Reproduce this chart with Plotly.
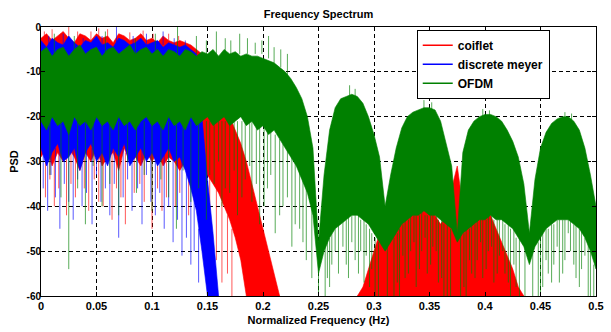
import numpy as np
import plotly.graph_objects as go

# ---------------- data ----------------
x_ticks = [0, 0.05, 0.1, 0.15, 0.2, 0.25, 0.3, 0.35, 0.4, 0.45, 0.5]
x_tick_labels = ["0", "0.05", "0.1", "0.15", "0.2", "0.25", "0.3", "0.35", "0.4", "0.45", "0.5"]
y_ticks = [-60, -50, -40, -30, -20, -10, 0]
y_tick_labels = ["-60", "-50", "-40", "-30", "-20", "-10", "0"]

# OFDM (green): frequency grid 0 .. 0.5, 101 samples (dense band upper / lower edge)
ofdm_f = np.linspace(0, 0.5, 101)
ofdm_upper = [
    -5.5, -4.5, -6.5, -5, -4.5, -6.5, -5, -4, -6, -5,
    -4.5, -6.5, -5, -4.5, -6, -5, -4, -6, -5, -4.5,
    -6, -5, -6.5, -5, -5.5, -6.5, -5, -5.5, -6.5, -5.5,
    -6, -5, -6.5, -5, -6, -5.5, -6.5, -6, -6.5, -6.5,
    -7, -7.5, -8, -9, -10, -11.5, -13.5, -16, -20, -27,
    -48,
    -33, -23, -18, -16, -15.5, -15, -15.5, -17, -20, -24,
    -29, -40, -33, -27, -22.5, -20, -19, -18.5, -18, -18,
    -18.5, -21, -26, -31, -46, -28, -23, -21, -20, -19.5,
    -19.5, -20, -21, -23, -25.5, -29, -35, -46, -34, -27,
    -23.5, -21.5, -20.5, -20, -20, -21, -23, -27, -33, -40,
]
ofdm_lower = [
    -21, -23, -20, -22, -21, -24, -20, -22, -21, -23,
    -20, -22, -21, -23, -20, -22, -21, -23, -21, -20,
    -22, -21, -23, -20, -22, -21, -23, -20, -22, -21,
    -20, -22, -21, -20, -22, -21, -20, -22, -21, -23,
    -22, -24, -23, -25, -27, -29, -31, -34, -37, -42,
    -55,
    -50, -47, -45, -44, -43, -42, -42, -43, -44, -46,
    -48, -50, -48, -46, -44, -43, -42, -42, -41, -42,
    -42, -43, -44, -45, -48, -46, -45, -44, -43, -43,
    -42, -43, -43, -44, -45, -47, -49, -53, -49, -47,
    -45, -44, -43, -43, -43, -44, -45, -47, -50, -54,
]
# thin spikes of the OFDM trace: frequency, start level, end level
ofdm_spike_f = [
    # upward spikes
    0.012, 0.03, 0.058, 0.085, 0.103, 0.123, 0.14, 0.149, 0.158, 0.166, 0.171, 0.179,
    0.186, 0.193, 0.199, 0.205, 0.21, 0.216, 0.222,
    0.278, 0.283, 0.345, 0.352, 0.398, 0.404, 0.472, 0.478,
    # main lobe, downward
    0.008, 0.018, 0.025, 0.033, 0.04, 0.047, 0.055, 0.062, 0.07, 0.078, 0.086, 0.093,
    0.1, 0.108, 0.115, 0.122, 0.128, 0.135, 0.142, 0.149, 0.152, 0.156, 0.16, 0.163,
    0.166, 0.17, 0.174, 0.177, 0.181, 0.184, 0.188, 0.19, 0.194, 0.197, 0.201, 0.204,
    0.207, 0.211, 0.215, 0.218, 0.222, 0.226, 0.229, 0.233, 0.236, 0.239, 0.244, 0.25,
    # side lobe 1
    0.256, 0.258, 0.26, 0.262, 0.265, 0.268, 0.272, 0.275, 0.277, 0.28, 0.283,
    0.286, 0.288, 0.291, 0.293, 0.296, 0.298, 0.301, 0.304, 0.312, 0.318,
    # side lobe 2
    0.321, 0.323, 0.326, 0.328, 0.331, 0.333, 0.336, 0.338, 0.341, 0.343, 0.346,
    0.348, 0.351, 0.353, 0.356, 0.358, 0.361, 0.363, 0.366, 0.369, 0.378,
    # side lobe 3
    0.381, 0.383, 0.386, 0.388, 0.391, 0.393, 0.396, 0.398, 0.401, 0.403, 0.406, 0.408,
    0.411, 0.413, 0.416, 0.418, 0.421, 0.423, 0.426, 0.428, 0.431, 0.436, 0.443,
    # side lobe 4
    0.448, 0.45, 0.452, 0.455, 0.457, 0.46, 0.462, 0.465, 0.467, 0.47, 0.472,
    0.475, 0.477, 0.48, 0.482, 0.485, 0.487, 0.49, 0.493, 0.495, 0.498,
]
ofdm_spike_from = [
    -6, -6, -6, -6, -6, -6, -6, -6, -6, -6, -6, -6,
    -6, -6, -6, -7, -8, -9, -11,
    -16, -16, -19, -19, -20.5, -20.5, -21, -21,
    -21, -21, -21, -21, -21, -21, -21, -21, -21, -21, -21, -21,
    -21, -21, -21, -21, -21, -21, -21, -21, -21, -21, -21, -21,
    -21, -21, -21, -21, -21, -21, -21, -21, -21, -22, -22, -22,
    -23, -24, -25, -26, -27, -28, -30, -32, -34, -36, -40, -50,
    -49, -48, -47, -46, -45, -44, -43, -43, -42, -42, -42,
    -42, -43, -43, -44, -45, -46, -47, -48, -49, -47,
    -46, -45, -44, -43, -43, -42, -42, -42, -42, -41, -42,
    -42, -42, -42, -42, -43, -43, -44, -44, -45, -46,
    -46, -45, -45, -44, -44, -43, -43, -43, -43, -42, -42, -43,
    -43, -43, -43, -44, -44, -45, -45, -47, -47, -49, -50,
    -48, -47, -46, -45, -45, -44, -44, -43, -43, -43, -43,
    -43, -43, -44, -44, -45, -45, -47, -48, -50, -53,
]
ofdm_spike_to = [
    -1.5, -2, -1, -2.5, -1.5, 0, -2, -3, -1, -2.5, -3, -1.5,
    -2.5, -3.5, -3, -2, -4.5, -5, -6,
    -13, -13.8, -16.3, -16.8, -18.3, -18.6, -19, -19.3,
    -33, -38, -54, -36, -44, -31, -40, -35, -42, -30, -37, -33,
    -41, -34, -38, -45, -32, -39, -36, -43, -33, -35, -30, -40,
    -36, -37, -32, -42, -38, -34, -31, -39, -35, -44, -40, -36,
    -33, -46, -42, -40, -38, -49, -44, -45, -48, -52, -56, -60,
    -60, -56, -58, -53, -50, -55, -49, -53, -56, -48, -52,
    -55, -50, -57, -51, -58, -54, -60, -60, -60, -60,
    -57, -60, -51, -56, -55, -50, -48, -58, -54, -50, -47,
    -55, -53, -49, -50, -57, -56, -60, -60, -60, -60,
    -58, -60, -52, -55, -56, -52, -48, -56, -54, -50, -49, -57,
    -55, -51, -50, -55, -57, -60, -53, -58, -60, -60, -60,
    -60, -60, -58, -52, -55, -57, -53, -49, -57, -55, -52,
    -46, -50, -53, -56, -58, -54, -51, -60, -60, -60,
]

# discrete meyer (blue): grid 0 .. 0.16, 33 samples
meyer_f = np.linspace(0, 0.16, 33)
meyer_upper = [
    -3, -4.5, -2.5, -3.5, -4, -2, -3.5, -4.5, -3, -3.5,
    -2, -4, -3.5, -4.5, -2.5, -3, -4, -3.5, -2.5, -4,
    -3.5, -3, -4.5, -3.5, -4, -4.5, -4, -5, -6,
    -20, -34, -46, -60,
]
meyer_lower = [
    -27, -31, -28, -26, -30, -29, -27, -32, -28, -26,
    -30, -28, -31, -27, -29, -26, -31, -29, -27, -30,
    -28, -31, -29, -27, -30, -29,
    -32, -36, -41, -50, -60, -60, -60,
]
meyer_spike_f = [
    0.007, 0.02, 0.038, 0.055, 0.068, 0.083, 0.095, 0.11, 0.12, 0.13,
    0.002, 0.006, 0.009, 0.013, 0.017, 0.021, 0.025, 0.029, 0.033, 0.037,
    0.041, 0.046, 0.05, 0.054, 0.058, 0.062, 0.066, 0.07, 0.074, 0.078,
    0.082, 0.087, 0.091, 0.095, 0.099, 0.103, 0.107, 0.111, 0.115, 0.119,
    0.123, 0.127, 0.131, 0.135, 0.138, 0.142,
]
meyer_spike_from = [
    -4, -4, -4, -4, -4, -4, -4, -4, -4, -4,
    -27, -27, -27, -27, -27, -27, -27, -27, -27, -27,
    -27, -27, -27, -27, -27, -27, -27, -27, -27, -27,
    -27, -27, -27, -27, -27, -27, -27, -27, -27, -27,
    -28, -29, -32, -35, -38, -45,
]
meyer_spike_to = [
    -2, -1.5, -2.5, -2, 0, -2, -1.5, -1, -2.5, -3,
    -36, -41, -33, -38, -45, -35, -39, -43, -34, -40,
    -37, -44, -33, -39, -36, -42, -35, -47, -38, -34,
    -41, -36, -44, -33, -39, -42, -37, -45, -40, -48,
    -43, -51, -47, -53, -50, -57,
]

# coiflet (red): first band 0 .. 0.215 (44 samples), second band 0.285 .. 0.435 (31 samples)
coif_f1 = np.linspace(0, 0.215, 44)
coif_upper1 = [
    -2.5, -1.5, -3, -2, -1, -2.5, -3.5, -1.5, -2, -3,
    -1.5, -2.5, -2, -3.5, -1.5, -2, -3, -2.5, -1.5, -3,
    -2.5, -3.5, -2, -3, -3.5, -3, -3.5, -4,
    -5, -6, -8, -11, -14, -17, -20, -23, -26, -30, -35, -40, -45, -50, -55, -60,
]
coif_lower1 = [
    -29, -27, -31, -28, -30, -27, -29, -32, -28, -30,
    -27, -31, -29, -28, -32, -27, -30, -29, -31, -28,
    -30, -28, -31, -29, -30, -32, -30, -31, -30, -32,
    -33, -35, -37, -40, -43, -47, -52, -60, -60, -60, -60, -60, -60, -60,
]
coif_f2 = np.linspace(0.285, 0.435, 31)
coif_upper2 = [
    -60, -58, -54, -50, -46, -43, -42, -41, -40, -39,
    -38.5, -39, -40, -40, -42, -44, -42, -36, -31, -40,
    -43, -41, -40, -40, -42, -45, -48, -51, -54, -58, -60,
]
coif_lower2 = [
    -60, -60, -60, -60, -60, -60, -60, -60, -60, -60,
    -60, -60, -60, -60, -60, -60, -60, -60, -60, -60,
    -60, -60, -60, -60, -60, -60, -60, -60, -60, -60, -60,
]
coif_spike_f = [
    0.003, 0.01, 0.018, 0.025, 0.033, 0.045, 0.052, 0.06, 0.072, 0.08, 0.092, 0.101, 0.115, 0.124,
    0.004, 0.008, 0.012, 0.016, 0.023, 0.027, 0.031, 0.039, 0.043, 0.048, 0.052, 0.056,
    0.064, 0.068, 0.072, 0.076, 0.084, 0.089, 0.093, 0.1, 0.105, 0.109, 0.113, 0.121,
    0.125, 0.133, 0.14, 0.145,
    0.152, 0.158, 0.163, 0.168, 0.172,
    0.322, 0.338, 0.352, 0.395,
]
coif_spike_from = [
    -3, -3, -3, -3, -3, -3, -3, -3, -3, -3, -3, -3, -3, -3,
    -28, -28, -28, -28, -28, -28, -28, -28, -28, -28, -28, -28,
    -28, -28, -28, -28, -28, -28, -28, -28, -28, -28, -28, -28,
    -29, -30, -30, -31,
    -33, -36, -39, -42, -45,
    -41, -39, -40, -40,
]
coif_spike_to = [
    -1, -0.5, -1.5, 0, -1, -1, -0.3, -0.5, -1.8, -1.2, -0.8, -1.5, -1.5, -2,
    -38, -34, -40, -36, -42, -35, -38, -36, -41, -34, -39, -40,
    -43, -36, -38, -44, -37, -35, -39, -45, -36, -41, -38, -40,
    -37, -42, -39, -44,
    -46, -52, -57, -55, -60,
    -35, -33, -34, -36,
]

RED = "#ff0000"
BLUE = "#0000ff"
GREEN = "#008000"


def band(f, upper, lower, color):
    f = list(f)
    return go.Scatter(
        x=f + f[::-1], y=list(upper) + list(lower)[::-1],
        mode="lines", fill="toself", fillcolor=color,
        line=dict(color=color, width=0.6), showlegend=False, hoverinfo="skip",
    )


def spikes(f, y0, y1, color):
    xs, ys = [], []
    for a, b, c in zip(f, y0, y1):
        xs += [a, a, None]
        ys += [b, c, None]
    return go.Scatter(x=xs, y=ys, mode="lines", line=dict(color=color, width=1),
                      opacity=0.65, showlegend=False, hoverinfo="skip")


fig = go.Figure()
fig.add_trace(band(coif_f1, coif_upper1, coif_lower1, RED))
fig.add_trace(band(coif_f2, coif_upper2, coif_lower2, RED))
fig.add_trace(spikes(coif_spike_f, coif_spike_from, coif_spike_to, RED))
fig.add_trace(band(meyer_f, meyer_upper, meyer_lower, BLUE))
fig.add_trace(spikes(meyer_spike_f, meyer_spike_from, meyer_spike_to, BLUE))
fig.add_trace(band(ofdm_f, ofdm_upper, ofdm_lower, GREEN))
fig.add_trace(spikes(ofdm_spike_f, ofdm_spike_from, ofdm_spike_to, GREEN))

# legend entries
for name, col in [("coiflet", RED), ("discrete meyer", BLUE), ("OFDM", GREEN)]:
    fig.add_trace(go.Scatter(x=[None], y=[None], mode="lines", name=name,
                             line=dict(color=col, width=1.5)))

FONT = "Liberation Sans, Arial, sans-serif"
axis_common = dict(
    showline=True, linecolor="black", linewidth=1, mirror="ticks",
    ticks="inside", ticklen=4, tickcolor="black",
    showgrid=True, gridcolor="black", gridwidth=1, griddash="4px,3px",
    zeroline=False,
)
fig.update_xaxes(range=[0, 0.5], tickvals=x_ticks, ticktext=x_tick_labels,
                 tickfont=dict(family=FONT, size=11, color="black", weight="bold"),
                 title=dict(text="<b>Normalized Frequency (Hz)</b>", standoff=5,
                            font=dict(family=FONT, size=11, color="black")),
                 **axis_common)
fig.update_yaxes(range=[-60, 0], tickvals=y_ticks, ticktext=y_tick_labels,
                 tickfont=dict(family=FONT, size=10, color="black", weight="bold"),
                 ticklabelstandoff=-3,
                 title=dict(text="<b>PSD</b>", standoff=5,
                            font=dict(family=FONT, size=11, color="black")),
                 **axis_common)

fig.update_layout(
    width=611, height=332,
    margin=dict(l=41, r=7, t=27, b=29),
    paper_bgcolor="white", plot_bgcolor="white",
    title=dict(text="<b>Frequency Spectrum</b>", x=0.5, xref="paper",
               y=1 - 14 / 332, yref="container", yanchor="middle",
               font=dict(family=FONT, size=11, color="black")),
    legend=dict(x=0.677, y=0.99, xanchor="left", yanchor="top",
                bgcolor="white", bordercolor="black", borderwidth=1,
                font=dict(family=FONT, size=12, color="black", weight="bold"),
                tracegroupgap=0, itemwidth=30),
    showlegend=True,
)

fig.write_html("out.html")
